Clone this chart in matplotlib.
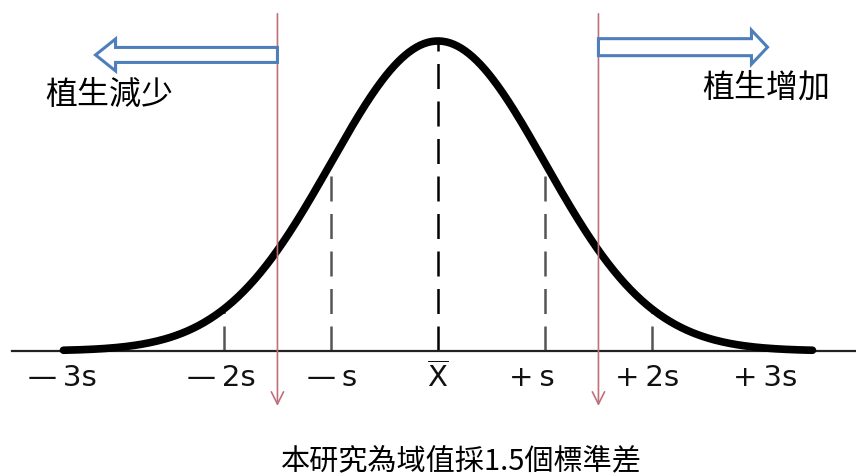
import numpy as np
import matplotlib.pyplot as plt
from matplotlib.patches import FancyArrow

plt.rcParams['font.family'] = ['DejaVu Sans', 'Noto Sans CJK TC']

# 標準差刻度 (單位: s)
tick_pos = [-2, -1, 0, 1, 2]
label_text = ['\u2014\u20093s', '\u2014\u20092s', '\u2014\u2009s',
              r'$\overline{\mathsf{X}}$',
              '+\u2009s', '+\u20092s', '+\u20093s']
label_pos = [-3.51, -2.02, -0.99, 0.0, 0.88, 1.95, 3.06]
threshold = 1.5
curve_range = (-3.5, 3.5)
left_text = '植生減少'
right_text = '植生增加'
caption = '本研究為域值採1.5個標準差'


def pdf(v):
    return np.exp(-0.5 * np.asarray(v) ** 2) / np.sqrt(2 * np.pi)


fig = plt.figure(figsize=(8.56, 4.77), dpi=100)
ax = fig.add_axes([0, 0, 1, 1])
ax.set_xlim(-4.093, 3.907)
ax.set_ylim(-0.161, 0.453)
ax.axis('off')

# 基線
ax.plot([-3.98, 3.907], [0, 0], color='#222222', lw=1.6, zorder=2)

# 常態曲線
x = np.linspace(curve_range[0], curve_range[1], 400)
ax.plot(x, pdf(x), color='black', lw=5.5, solid_capstyle='round', zorder=3)

# 虛線
for t in tick_pos:
    c = 'black' if t == 0 else '#555555'
    ax.plot([t, t], [0, pdf(t)], color=c, lw=1.8, dashes=(10, 5), zorder=1)

# 閾值紅線
for t in (-threshold, threshold):
    ax.annotate('', xy=(t, -0.0708), xytext=(t, 0.434),
                arrowprops=dict(arrowstyle='->', color='#C0707A', lw=1.2,
                                mutation_scale=22, shrinkA=0, shrinkB=0),
                zorder=4)

# 藍色空心箭頭
blue = '#4F7FBA'
ax.add_patch(FancyArrow(-threshold, 0.381, -1.70, 0, width=0.0193,
                        head_width=0.0412, head_length=0.187,
                        length_includes_head=True, fc='white', ec=blue,
                        lw=2.2, zorder=5))
ax.add_patch(FancyArrow(threshold, 0.391, 1.58, 0, width=0.0219,
                        head_width=0.0438, head_length=0.15,
                        length_includes_head=True, fc='white', ec=blue,
                        lw=2.2, zorder=5))

ax.text(-3.07, 0.331, left_text, fontsize=23, ha='center', va='center',
        family=['Noto Sans CJK TC'])
ax.text(3.07, 0.340, right_text, fontsize=23, ha='center', va='center',
        family=['Noto Sans CJK TC'])

for p, s in zip(label_pos, label_text):
    ax.text(p, -0.0335, s, fontsize=21, ha='center', va='center',
            color='#111111')

ax.text(0.215, -0.141, caption, fontsize=21, ha='center', va='center',
        family=['Noto Sans CJK TC'])

fig.savefig('out.png', dpi=100, facecolor='white')
